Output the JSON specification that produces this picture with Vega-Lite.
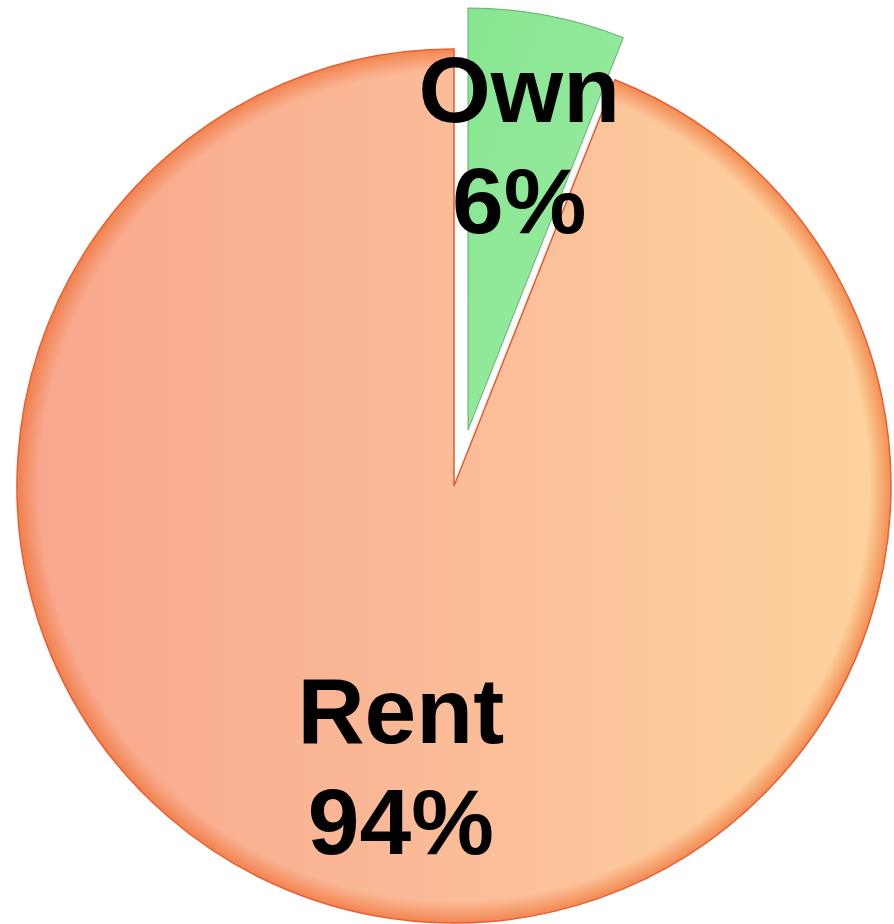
{
  "$schema": "https://vega.github.io/schema/vega-lite/v6.json",
  "width": 878,
  "height": 876,
  "autosize": {"type": "none"},
  "padding": {"left": 15, "top": 48, "right": 1, "bottom": 0},
  "background": "white",
  "config": {"view": {"stroke": null}},
  "data": {"values": [
    {"tenure": "Own", "share": 6},
    {"tenure": "Rent", "share": 94}
  ]},
  "transform": [
    {"calculate": "datum.tenure + '\\n' + datum.share + '%'", "as": "label"}
  ],
  "encoding": {
    "theta": {"field": "share", "type": "quantitative", "stack": true},
    "order": {"field": "tenure", "sort": "ascending"}
  },
  "layer": [
    {
      "mark": {
        "type": "arc", "radius": 437,
        "fill": {"gradient": "linear", "x1": 0, "y1": 0, "x2": 1, "y2": 0,
          "stops": [
            {"offset": 0, "color": "#F8A68B"},
            {"offset": 0.5, "color": "#FBBC98"},
            {"offset": 1, "color": "#FDD49E"}
          ]},
        "stroke": "#E35A34", "strokeWidth": 1.5
      },
      "encoding": {
        "opacity": {"condition": {"test": "datum.tenure === 'Rent'", "value": 1}, "value": 0}
      }
    },
    {
      "mark": {
        "type": "arc", "radius": 437,
        "fill": {"gradient": "radial", "x1": 0.5, "y1": 0.5, "r1": 0, "x2": 0.5, "y2": 0.5, "r2": 0.5,
          "stops": [
            {"offset": 0, "color": "rgba(238,106,44,0)"},
            {"offset": 0.95, "color": "rgba(238,106,44,0)"},
            {"offset": 1, "color": "rgba(238,106,44,0.65)"}
          ]},
        "strokeWidth": 0
      },
      "encoding": {
        "opacity": {"condition": {"test": "datum.tenure === 'Rent'", "value": 1}, "value": 0}
      }
    },
    {
      "mark": {
        "type": "arc", "radius": 422, "xOffset": 14, "yOffset": -56,
        "fill": {"gradient": "linear", "x1": 0, "y1": 0, "x2": 1, "y2": 1,
          "stops": [
            {"offset": 0, "color": "#86E691"},
            {"offset": 1, "color": "#9CEBA3"}
          ]},
        "stroke": "#4F9E5C", "strokeWidth": 0.8
      },
      "encoding": {
        "opacity": {"condition": {"test": "datum.tenure === 'Own'", "value": 1}, "value": 0}
      }
    },
    {
      "mark": {
        "type": "text", "radius": 348, "font": "Liberation Sans", "fontWeight": "bold",
        "fontSize": 93, "lineBreak": "\n", "lineHeight": 111, "color": "black",
        "align": "center", "baseline": "middle", "dy": -50
      },
      "encoding": {
        "text": {"condition": {"test": "datum.tenure === 'Own'", "field": "label"}, "value": ""}
      }
    },
    {
      "mark": {
        "type": "text", "radius": 284, "font": "Liberation Sans", "fontWeight": "bold",
        "fontSize": 93, "lineBreak": "\n", "lineHeight": 111, "color": "black",
        "align": "center", "baseline": "middle", "dy": -50
      },
      "encoding": {
        "text": {"condition": {"test": "datum.tenure === 'Rent'", "field": "label"}, "value": ""}
      }
    }
  ]
}
